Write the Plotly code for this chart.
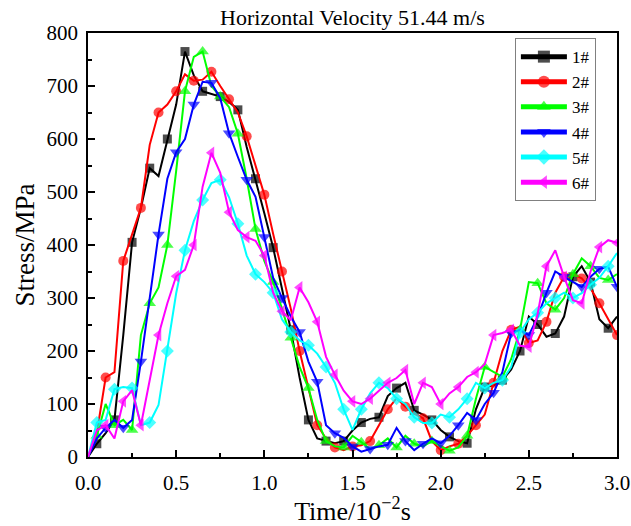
import plotly.graph_objects as go

title_text = "Horizontal Velocity 51.44 m/s"
x_title = "Time/10<sup>−2</sup>s"
y_title = "Stress/MPa"

time = [0.00, 0.05, 0.10, 0.15, 0.20, 0.25, 0.30, 0.35, 0.40, 0.45, 0.50, 0.55, 0.60, 0.65, 0.70,
        0.75, 0.80, 0.85, 0.90, 0.95, 1.00, 1.05, 1.10, 1.15, 1.20, 1.25, 1.30, 1.35, 1.40, 1.45,
        1.50, 1.55, 1.60, 1.65, 1.70, 1.75, 1.80, 1.85, 1.90, 1.95, 2.00, 2.05, 2.10, 2.15, 2.20,
        2.25, 2.30, 2.35, 2.40, 2.45, 2.50, 2.55, 2.60, 2.65, 2.70, 2.75, 2.80, 2.85, 2.90, 2.95, 3.00]

s1 = [0, 25, 45, 70, 230, 405, 470, 545, 530, 600, 665, 765, 720, 690, 685,
      680, 670, 655, 585, 525, 460, 395, 315, 240, 150, 70, 35, 30, 26, 30,
      50, 65, 72, 75, 115, 130, 140, 88, 80, 70, 51, 38, 30, 26, 90,
      132, 135, 145, 165, 200, 265, 250, 227, 233, 265, 340, 360, 330, 260, 243, 265]
s2 = [0, 45, 150, 160, 370, 420, 470, 589, 650, 665, 690, 722, 710, 712, 727,
      700, 675, 650, 605, 550, 495, 421, 350, 280, 200, 130, 60, 35, 18, 13,
      20, 22, 30, 60, 90, 111, 95, 82, 73, 30, 13, 20, 25, 40, 60,
      80, 140, 200, 240, 246, 215, 220, 255, 310, 340, 345, 337, 318, 290, 260, 230]
s3 = [0, 40, 100, 60, 70, 51, 230, 290, 320, 400, 540, 690, 755, 765, 700,
      680, 660, 610, 525, 430, 370, 330, 280, 225, 170, 130, 70, 30, 20, 18,
      40, 28, 15, 22, 35, 18, 40, 25, 20, 30, 20, 12, 18, 40, 110,
      170, 160, 151, 185, 240, 330, 328, 290, 278, 300, 345, 375, 360, 338, 334, 345]
s4 = [0, 35, 55, 70, 55, 70, 180, 300, 420, 525, 575, 600, 665, 708, 706,
      677, 611, 566, 523, 491, 415, 338, 300, 265, 236, 180, 142, 60, 45, 36,
      20, 10, 15, 20, 23, 55, 30, 13, 25, 35, 26, 40, 60, 83, 70,
      100, 121, 160, 234, 240, 230, 264, 310, 350, 340, 330, 321, 340, 355, 359, 321]
s5 = [0, 65, 70, 128, 132, 130, 60, 65, 98, 200, 309, 390, 445, 485, 517,
      523, 490, 440, 380, 345, 330, 310, 260, 236, 220, 211, 195, 170, 140, 90,
      51, 90, 120, 140, 130, 110, 100, 75, 64, 64, 80, 75, 90, 110, 140,
      130, 140, 145, 170, 235, 260, 272, 290, 300, 310, 300, 309, 325, 338, 360, 385]
s6 = [0, 50, 60, 35, 105, 126, 60, 145, 230, 290, 341, 353, 400, 510, 574,
      536, 462, 428, 415, 408, 380, 310, 275, 258, 320, 292, 255, 189, 155, 125,
      105, 100, 110, 125, 140, 149, 164, 100, 140, 132, 100, 120, 132, 151, 160,
      175, 230, 234, 240, 210, 208, 270, 360, 390, 340, 296, 290, 350, 396, 409, 404]

names = ["1#", "2#", "3#", "4#", "5#", "6#"]
series = [s1, s2, s3, s4, s5, s6]
colors = ["#000000", "#FF0000", "#00FF00", "#0000FF", "#00FFFF", "#FF00FF"]
symbols = ["square", "circle", "triangle-up", "triangle-down", "diamond", "triangle-left"]
msizes = [9, 10, 11, 11, 10, 11]
offsets = [1, 0, 1, 0, 1, 0]

fig = go.Figure()
for i, (nm, ys) in enumerate(zip(names, series)):
    sizes = [msizes[i] if (k + offsets[i]) % 2 == 0 and k > 0 else 0 for k in range(len(ys))]
    fig.add_trace(go.Scatter(
        x=time, y=ys, name=nm, mode="lines+markers",
        line=dict(color=colors[i], width=2),
        marker=dict(symbol=symbols[i], color=colors[i], size=sizes, line=dict(width=0)),
    ))

font_family = "Liberation Serif, Times New Roman, serif"
fig.update_layout(
    width=631, height=526,
    margin=dict(l=88, r=14, t=33, b=69, autoexpand=False),
    paper_bgcolor="white", plot_bgcolor="white",
    font=dict(family=font_family, color="black", size=20),
    title=dict(text=title_text, x=0.5, xref="paper", xanchor="center",
               y=1 - 17 / 526, yref="container", yanchor="middle",
               font=dict(size=22, family=font_family, color="black")),
    showlegend=True,
    legend=dict(x=0.807, y=0.988, xanchor="left", yanchor="top",
                bordercolor="#808080", borderwidth=1, bgcolor="white",
                font=dict(size=17, family=font_family), itemsizing="constant",
                itemwidth=46, tracegroupgap=0),
)
fig.update_xaxes(
    range=[0, 3.0], dtick=0.5, tick0=0, tickformat=".1f", automargin=False,
    ticks="inside", ticklen=7, tickwidth=1.5, tickcolor="black", ticklabelstandoff=6,
    minor=dict(dtick=0.25, ticks="inside", ticklen=4, tickwidth=1.5, tickcolor="black"),
    showline=True, linecolor="black", linewidth=1.5, mirror=True,
    showgrid=False, zeroline=False,
    tickfont=dict(size=21, family=font_family),
    title=dict(text=x_title, font=dict(size=26, family=font_family), standoff=6),
)
fig.update_yaxes(
    range=[0, 800], dtick=100, tick0=0, automargin=False,
    ticks="inside", ticklen=7, tickwidth=1.5, tickcolor="black", ticklabelstandoff=4,
    minor=dict(dtick=50, ticks="inside", ticklen=4, tickwidth=1.5, tickcolor="black"),
    showline=True, linecolor="black", linewidth=1.5, mirror=True,
    showgrid=False, zeroline=False,
    tickfont=dict(size=21, family=font_family),
    title=dict(text=y_title, font=dict(size=27, family=font_family), standoff=4),
)
fig.write_html("out.html")
